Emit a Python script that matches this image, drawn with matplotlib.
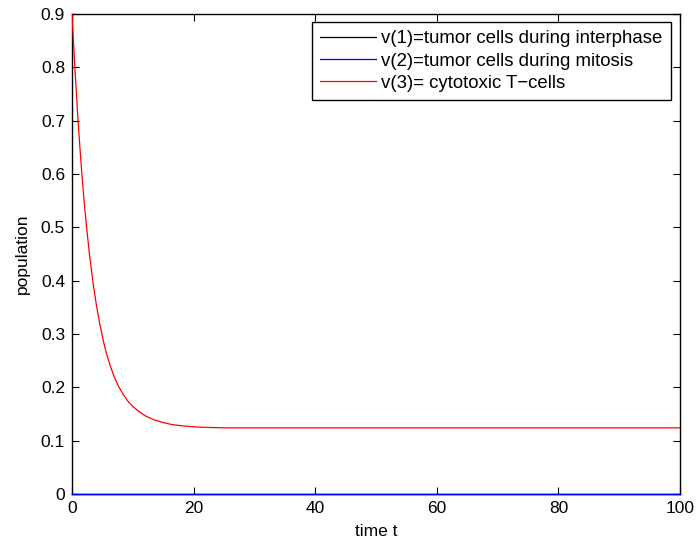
import matplotlib
matplotlib.use("Agg")
import matplotlib.pyplot as plt

plt.rcParams['font.family'] = ['Liberation Sans', 'DejaVu Sans']

# readings from the picture
t_v1 = [0, 100]
v1 = [0, 0]
t_v2 = [0, 100]
v2 = [0, 0]
t_v3 = [0, 0.25, 0.5, 0.94, 1.3, 1.6, 2.0, 2.4, 2.9, 3.5, 4.0, 4.6, 5.2, 5.7,
        6.3, 6.9, 7.6, 8.4, 9.2, 10.1, 11.2, 12.3, 13.5, 15, 16.5, 18, 20, 22,
        25, 30, 40, 60, 80, 100]
v3 = [0.9, 0.845, 0.795, 0.71, 0.65, 0.603, 0.548, 0.5, 0.447, 0.393, 0.355,
      0.317, 0.285, 0.262, 0.24, 0.221, 0.203, 0.187, 0.174, 0.163, 0.153,
      0.145, 0.139, 0.134, 0.13, 0.128, 0.126, 0.125, 0.124, 0.124, 0.124,
      0.124, 0.124, 0.124]

labels = ["v(1)=tumor cells during interphase",
          "v(2)=tumor cells during mitosis",
          "v(3)= cytotoxic T\u2212cells"]

fig = plt.figure(figsize=(6.99, 5.44), dpi=100)
ax = fig.add_axes([72/699, 50/544, 608/699, 480/544])

ax.plot(t_v1, v1, color="black", lw=0.9, label=labels[0], zorder=3, clip_on=False)
ax.plot(t_v2, v2, color="blue", lw=0.9, label=labels[1], zorder=3, clip_on=False)
ax.plot(t_v3, v3, color="red", lw=0.9, label=labels[2], zorder=3)

ax.set_xlim(0, 100)
ax.set_ylim(0, 0.9)
ax.set_xticks([0, 20, 40, 60, 80, 100])
ax.set_yticks([0, 0.1, 0.2, 0.3, 0.4, 0.5, 0.6, 0.7, 0.8, 0.9])
ax.set_yticklabels(["0", "0.1", "0.2", "0.3", "0.4", "0.5", "0.6", "0.7", "0.8", "0.9"])
ax.tick_params(direction="in", top=True, right=True, labelsize=12.5, length=5,
               width=0.8, pad=5)
for s in ax.spines.values():
    s.set_linewidth(1)

ax.set_xlabel("time t", fontsize=12.5, labelpad=6)
ax.set_ylabel("population", fontsize=12.5, labelpad=8)

leg = ax.legend(loc="upper right", bbox_to_anchor=((671 - 72) / 608, (494 - 22) / 480),
                borderaxespad=0, fontsize=13.4, handlelength=3.0, handletextpad=0.27,
                labelspacing=0.28, fancybox=False, framealpha=1,
                edgecolor="black", borderpad=0.45)
leg.get_frame().set_linewidth(1)

fig.savefig("out.png", dpi=100)
